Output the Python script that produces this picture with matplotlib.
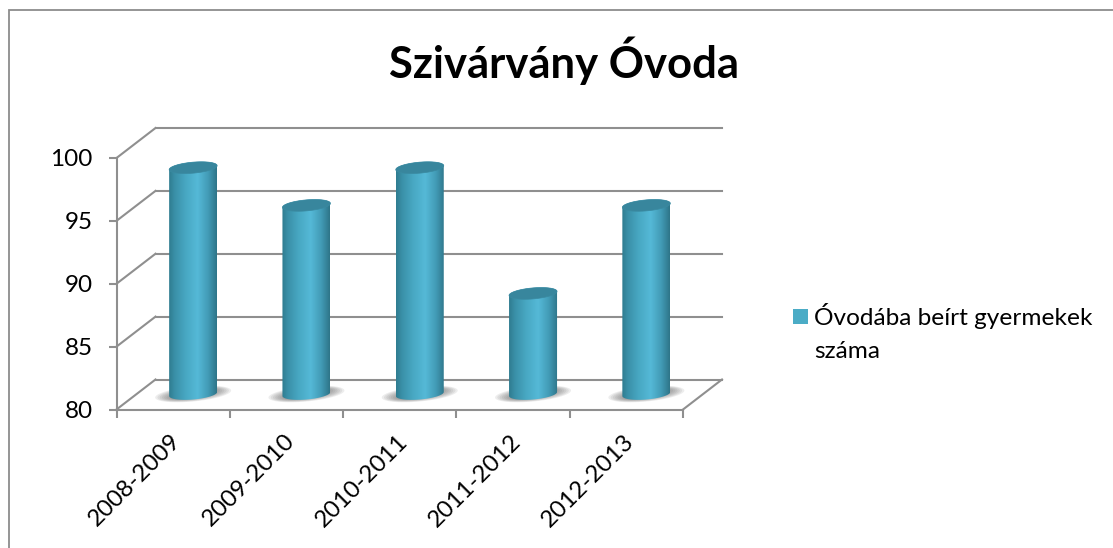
import numpy as np
import matplotlib
matplotlib.use("Agg")
import matplotlib.pyplot as plt
from matplotlib.colors import LinearSegmentedColormap
from matplotlib.patches import Polygon, Rectangle
from matplotlib.transforms import ScaledTranslation

title = "Szivárvány Óvoda"
categories = ["2008-2009", "2009-2010", "2010-2011", "2011-2012", "2012-2013"]
values = [98, 95, 98, 88, 95]
y_ticks = [80, 85, 90, 95, 100]
series_label = "Óvodába beírt gyermekek\nszáma"

W, H = 1113, 548
plt.rcParams["font.family"] = ["Lato", "DejaVu Sans"]
fig = plt.figure(figsize=(W / 100, H / 100), dpi=100, facecolor="white")

X0, X1, Y80, Y100 = 116.5, 683.0, 409.5, 158.0
ax = fig.add_axes([X0 / W, 1 - Y80 / H, (X1 - X0) / W, (Y80 - Y100) / H])
ax.set_xlim(0, len(categories))
ax.set_ylim(y_ticks[0], y_ticks[-1])
ax.patch.set_alpha(0)

GREY = "#8f8f8f"
LW = 1.5


def shifted(dx, dy):
    return ax.transData + ScaledTranslation(dx / 100, -dy / 100, fig.dpi_scale_trans)


back = shifted(39, -30)
mid = shifted(20, -15.5)

# scale factors from pixels to data units
ux = len(categories) / (X1 - X0)
uy = (y_ticks[-1] - y_ticks[0]) / (Y80 - Y100)

# walls: gridlines on the back plane, diagonals on the side wall and floor
xl, xr = ax.get_xlim()
for v in y_ticks:
    ax.plot([xl, xr], [v, v], color=GREY, lw=LW, transform=back, clip_on=False, zorder=1)
    ax.plot([xl, xl + 39 * ux], [v, v + 30 * uy], color=GREY, lw=LW, clip_on=False, zorder=1)
ax.plot([xr, xr + 39 * ux], [y_ticks[0], y_ticks[0] + 30 * uy], color=GREY, lw=LW,
        clip_on=False, zorder=1)

cmap = LinearSegmentedColormap.from_list(
    "cyl",
    [(0, "#2f7c90"), (0.12, "#3a90a8"), (0.35, "#48a8c3"),
     (0.6, "#55b9d7"), (0.82, "#429bb6"), (1, "#2e7589")],
)
grad = np.linspace(0, 1, 128).reshape(1, -1)
RX, RY, TILT = 24, 5.5, 2.0


def ring(cx, cy, rx, ry, tilt, t):
    return np.column_stack([cx + rx * ux * np.cos(t),
                            cy + (ry * np.sin(t) + tilt * np.cos(t)) * uy])


for i, val in enumerate(values):
    cx = i + 0.5
    base = y_ticks[0]
    # soft shadow on the floor
    for k in range(12):
        f = 1 - k / 12
        t = np.linspace(0, 2 * np.pi, 80)
        pts = ring(cx, base, 27 * f + 11, 6 * f + 1.5, 3.5, t)
        ax.add_patch(Polygon(pts, closed=True, fc="#5f5f5f", ec="none", alpha=0.11,
                             transform=mid, clip_on=False, zorder=2))
    # cylinder body
    lower = np.linspace(np.pi, 2 * np.pi, 50)
    upper = np.linspace(0, np.pi, 50)
    outline = np.vstack([ring(cx, base, RX, RY, TILT, lower), ring(cx, val, RX, RY, TILT, upper)])
    body = Polygon(outline, closed=True, fc="none", ec="none", transform=mid, clip_on=False, zorder=3)
    ax.add_patch(body)
    im = ax.imshow(grad, cmap=cmap, aspect="auto", zorder=3, interpolation="bilinear",
                   extent=[cx - RX * ux, cx + RX * ux, base - 8 * uy, val + 8 * uy],
                   transform=mid, clip_on=True)
    im.set_clip_path(body)
    # top cap
    t = np.linspace(0, 2 * np.pi, 100)
    ax.add_patch(Polygon(ring(cx, val, RX, RY, TILT, t), closed=True, fc="#38869d", ec="#3a8aa1",
                         lw=0.5, transform=mid, clip_on=False, zorder=4))

ax.set_xlim(0, len(categories))
ax.set_ylim(y_ticks[0], y_ticks[-1])

# axes
for side in ("top", "right"):
    ax.spines[side].set_visible(False)
for side in ("left", "bottom"):
    ax.spines[side].set_color(GREY)
    ax.spines[side].set_linewidth(LW)
    ax.spines[side].set_zorder(1.5)
ax.set_yticks(y_ticks)
ax.tick_params(axis="y", length=6, width=LW, color=GREY, labelsize=17.5, pad=11, labelcolor="black")
ax.set_xticks(np.arange(len(categories) + 1), minor=True)
ax.tick_params(axis="x", which="minor", length=6, width=LW, color=GREY)
ax.set_xticks(np.arange(len(categories)) + 0.5, categories)
ax.tick_params(axis="x", which="major", length=0, labelsize=17.3, pad=15, labelcolor="black")
label_nudge = ScaledTranslation(-3 / 100, 0, fig.dpi_scale_trans)
for lab in ax.get_xticklabels():
    lab.set_rotation(45)
    lab.set_ha("right")
    lab.set_rotation_mode("anchor")
    lab.set_transform(lab.get_transform() + label_nudge)

# chart title and legend
fig.text(564 / W, 1 - 60.5 / H, title, ha="center", va="center",
         fontsize=31.4, fontweight="bold", color="black")
fig.add_artist(Rectangle((793 / W, 1 - 324 / H), 15 / W, 15 / H, fc="#4bacc6", ec="none",
                         transform=fig.transFigure))
fig.text(814 / W, 1 - 303 / H, series_label, ha="left", va="top", fontsize=17.6,
         color="black", linespacing=1.7)

# chart-area border running off the right and bottom edge
fig.add_artist(Rectangle((8.5 / W, -0.05), 1.2, 1.05 - 9.5 / H, fc="none",
                         ec="#8c8c8c", lw=1.3, transform=fig.transFigure, zorder=0))

fig.savefig("out.png", dpi=100, facecolor="white")
